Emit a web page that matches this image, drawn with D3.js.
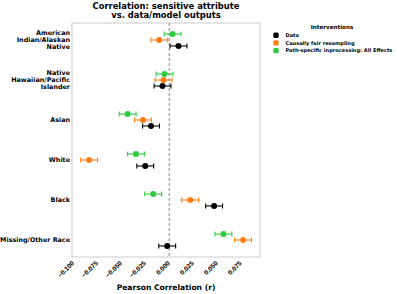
<!DOCTYPE html>
<html><head><meta charset="utf-8">
<script src="https://cdn.jsdelivr.net/npm/d3@7"></script>
<style>body{margin:0;background:#fff}svg{display:block;font-family:"DejaVu Sans",sans-serif}</style>
</head><body>
<script>
const categories = [
  ["American","Indian/Alaskan","Native"],
  ["Native","Hawaiian/Pacific","Islander"],
  ["Asian"],["White"],["Black"],["Missing/Other Race"]];
const seriesNames = ["Path-specific inprocessing: All Effects","Causally fair resampling","Data"];
const legendOrder = ["Data","Causally fair resampling","Path-specific inprocessing: All Effects"];
const colors = {"Data":"#000000","Causally fair resampling":"#ff7f0e","Path-specific inprocessing: All Effects":"#2ecc40"};
const dataValues    = [0.0097, -0.0070, -0.0190, -0.0250, 0.0469, -0.0021];
const resampleValues= [-0.0104, -0.0059, -0.0274, -0.0836, 0.0219, 0.0771];
const inprocValues  = [0.0035, -0.0049, -0.0434, -0.0347, -0.0167, 0.0566];
const errValues = [0.0088, 0.0088, 0.0088, 0.0088, 0.0088, 0.0088];
const xTicks = [-0.100,-0.075,-0.050,-0.025,0.000,0.025,0.050,0.075];

const W=397,H=294;
const svg=d3.select("body").append("svg").attr("width",W).attr("height",H);
const L=72,R=260,T=23,B=257;
const x=d3.scaleLinear().domain([-0.1015,0.0948]).range([L,R]);
const y=d3.scalePoint().domain(d3.range(categories.length)).range([T,B]).padding(0.425);
const offset=d3.scalePoint().domain(seriesNames).range([-6,6]);

// frame
svg.append("rect").attr("x",L).attr("y",T).attr("width",R-L).attr("height",B-T)
  .attr("fill","none").attr("stroke","#cccccc").attr("stroke-width",1);
// zero line
svg.append("line").attr("x1",x(0)).attr("x2",x(0)).attr("y1",T).attr("y2",B)
  .attr("stroke","#666").attr("stroke-width",0.8).attr("stroke-dasharray","3,2");

// x axis
const xa=svg.append("g").attr("transform",`translate(0,${B})`)
  .call(d3.axisBottom(x).tickValues(xTicks).tickSize(0).tickPadding(4).tickFormat(d3.format(".3f")));
xa.select(".domain").remove();
xa.selectAll("text").attr("font-size",6.6).attr("font-weight","bold").attr("fill","#000")
  .attr("text-anchor","end").attr("x",0).attr("y",0).attr("dy","0.35em")
  .attr("transform","translate(-1,5) rotate(-45)")
  .text(d=>d3.format(".3f")(d).replace("-","\u2212"));

// y labels
categories.forEach((lines,i)=>{
  const t=svg.append("text").attr("x",L-2).attr("text-anchor","end")
    .attr("font-size",6.4).attr("font-weight","bold");
  const n=lines.length;
  lines.forEach((ln,j)=>{
    t.append("tspan").attr("x",L-2).attr("y",y(i)+(j-(n-1)/2)*7).attr("dy","0.35em").text(ln);
  });
});

const series={"Data":dataValues,"Causally fair resampling":resampleValues,"Path-specific inprocessing: All Effects":inprocValues};
seriesNames.forEach(s=>{
  const g=svg.append("g");
  series[s].forEach((v,i)=>{
    const cy=y(i)+offset(s), e=errValues[i];
    g.append("line").attr("x1",x(v-e)).attr("x2",x(v+e)).attr("y1",cy).attr("y2",cy)
      .attr("stroke",colors[s]).attr("stroke-width",1.1);
    [v-e,v+e].forEach(ev=>g.append("line").attr("x1",x(ev)).attr("x2",x(ev)).attr("y1",cy-2.4).attr("y2",cy+2.4)
      .attr("stroke",colors[s]).attr("stroke-width",1.1));
    g.append("circle").attr("cx",x(v)).attr("cy",cy).attr("r",3).attr("fill",colors[s]);
  });
});

// title
svg.append("text").attr("x",(L+R)/2).attr("y",8.5).attr("text-anchor","middle")
  .attr("font-size",8.4).attr("font-weight","bold").text("Correlation: sensitive attribute");
svg.append("text").attr("x",(L+R)/2).attr("y",17.8).attr("text-anchor","middle")
  .attr("font-size",8.4).attr("font-weight","bold").text("vs. data/model outputs");
// x label
svg.append("text").attr("x",(L+R)/2).attr("y",290).attr("text-anchor","middle")
  .attr("font-size",7.6).attr("font-weight","bold").text("Pearson Correlation (r)");

// legend
svg.append("text").attr("x",332).attr("y",29).attr("text-anchor","middle")
  .attr("font-size",5.6).attr("font-weight","bold").text("Interventions");
legendOrder.forEach((s,i)=>{
  const ly=35.2+i*7.7;
  svg.append("rect").attr("x",273.3).attr("y",ly-2.7).attr("width",5.4).attr("height",5.4).attr("rx",1.6)
    .attr("fill",colors[s]);
  svg.append("text").attr("x",285.5).attr("y",ly).attr("dy","0.35em")
    .attr("font-size",5.05).attr("font-weight","bold").text(s);
});
</script>
</body></html>
